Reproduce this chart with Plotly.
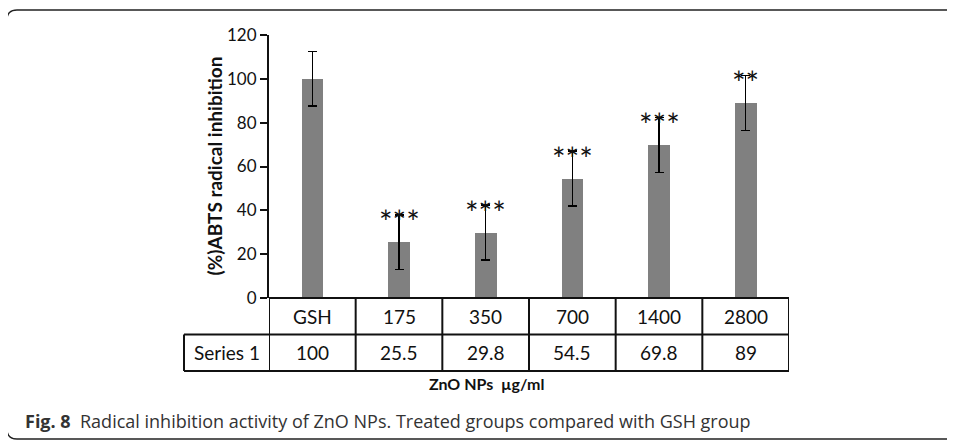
import plotly.graph_objects as go

categories = ["GSH", "175", "350", "700", "1400", "2800"]
values = [100, 25.5, 29.8, 54.5, 69.8, 89]
errors = [12.5, 12.5, 12.5, 12.5, 12.5, 12.5]
stars = ["", "***", "***", "***", "***", "**"]
table_values = ["100", "25.5", "29.8", "54.5", "69.8", "89"]
series_name = "Series 1"
y_title = "(%)ABTS radical inhibition"
x_title = "ZnO NPs  µg/ml"
caption_bold = "Fig. 8"
caption_text = "Radical inhibition activity of ZnO NPs. Treated groups compared with GSH group"

W, H = 955, 442
O = 8  # default page body margin
L, R, T, B = 269, 789, 35, 298   # page pixel coords of plot area
PW, PH = R - L, B - T

def px(x):
    return (x - L) / PW

def py(y):
    return (B - y) / PH

FONT = "Lato"
n = len(categories)
xs = list(range(n))

fig = go.Figure()
fig.add_trace(go.Bar(
    x=xs, y=values, width=0.25,
    marker=dict(color="#808080", line=dict(width=0)),
    error_y=dict(type="data", array=errors, visible=True, color="#000000",
                 thickness=1.6, width=4.5),
    showlegend=False, hoverinfo="skip",
))

shapes = []
line = dict(color="#111111", width=2)
y_top, y_mid, y_bot = py(298), py(334.5), py(371)
shapes.append(dict(type="line", xref="x", yref="paper", x0=-0.5, x1=n - 0.5, y0=y_top, y1=y_top, line=line))
shapes.append(dict(type="line", xref="paper", yref="paper", x0=px(184), x1=1, y0=y_mid, y1=y_mid, line=line))
shapes.append(dict(type="line", xref="paper", yref="paper", x0=px(184), x1=1, y0=y_bot, y1=y_bot, line=line))
shapes.append(dict(type="line", xref="paper", yref="paper", x0=px(184), x1=px(184), y0=y_mid, y1=y_bot, line=line))
for i in range(n + 1):
    xv = i - 0.5
    shapes.append(dict(type="line", xref="x", yref="paper", x0=xv, x1=xv, y0=y_bot, y1=y_top, line=line))

r = 10
fx0, fy0, fy1, fx1 = 7, 10, 439, 960
path = (f"M {px(fx1)} {py(fy0)} L {px(fx0 + r)} {py(fy0)} "
        f"Q {px(fx0)} {py(fy0)} {px(fx0)} {py(fy0 + r)} "
        f"L {px(fx0)} {py(fy1 - r)} "
        f"Q {px(fx0)} {py(fy1)} {px(fx0 + r)} {py(fy1)} "
        f"L {px(fx1)} {py(fy1)}")
shapes.append(dict(type="path", xref="paper", yref="paper", path=path,
                   line=dict(color="#222222", width=1.3)))

annotations = []
for i, c in enumerate(categories):
    annotations.append(dict(x=i, y=py(316), xref="x", yref="paper", text=c, showarrow=False,
                            font=dict(family=FONT, size=19, color="#111"), xanchor="center", yanchor="middle"))
    annotations.append(dict(x=i, y=py(352.5), xref="x", yref="paper", text=table_values[i], showarrow=False,
                            font=dict(family=FONT, size=19, color="#111"), xanchor="center", yanchor="middle"))
    if stars[i]:
        annotations.append(dict(x=i, y=values[i] + errors[i], xref="x", yref="y", text=stars[i], showarrow=False,
                                font=dict(family=FONT, size=32, color="#111"), xanchor="center", yanchor="middle",
                                yshift=-7))
annotations.append(dict(x=px(226.5), y=py(352.5), xref="paper", yref="paper", text=series_name, showarrow=False,
                        font=dict(family=FONT, size=19, color="#111"), xanchor="center", yanchor="middle"))
annotations.append(dict(x=px(486.5), y=py(383), xref="paper", yref="paper", text="<b>" + x_title + "</b>", showarrow=False,
                        font=dict(family=FONT, size=16, color="#111"), xanchor="center", yanchor="middle"))
annotations.append(dict(x=px(214), y=0.5, xref="paper", yref="paper", text="<b>" + y_title + "</b>", showarrow=False,
                        textangle=-90, font=dict(family=FONT, size=19, color="#111"), xanchor="center", yanchor="middle"))
annotations.append(dict(x=px(23), y=py(421), xref="paper", yref="paper",
                        text="<b>" + caption_bold + "</b>  " + caption_text, showarrow=False,
                        font=dict(family="Open Sans", size=18, color="#333"), xanchor="left", yanchor="middle"))

fig.update_layout(
    width=W - O, height=H - O,
    margin=dict(l=L - O, r=W - R, t=T - O, b=H - B, pad=0),
    paper_bgcolor="white", plot_bgcolor="white",
    xaxis=dict(range=[-0.5, n - 0.5], showticklabels=False, showgrid=False, zeroline=False,
               showline=False, ticks="", fixedrange=True),
    yaxis=dict(range=[0, 120], dtick=20, tick0=0, showgrid=False, zeroline=False,
               showline=True, linecolor="#111111", linewidth=2, ticks="outside", ticklen=7,
               tickcolor="#111111", tickwidth=1.5,
               tickfont=dict(family=FONT, size=17, color="#111"), fixedrange=True),
    shapes=shapes, annotations=annotations, bargap=0,
)

fig.write_html("out.html", config={"displayModeBar": False})
